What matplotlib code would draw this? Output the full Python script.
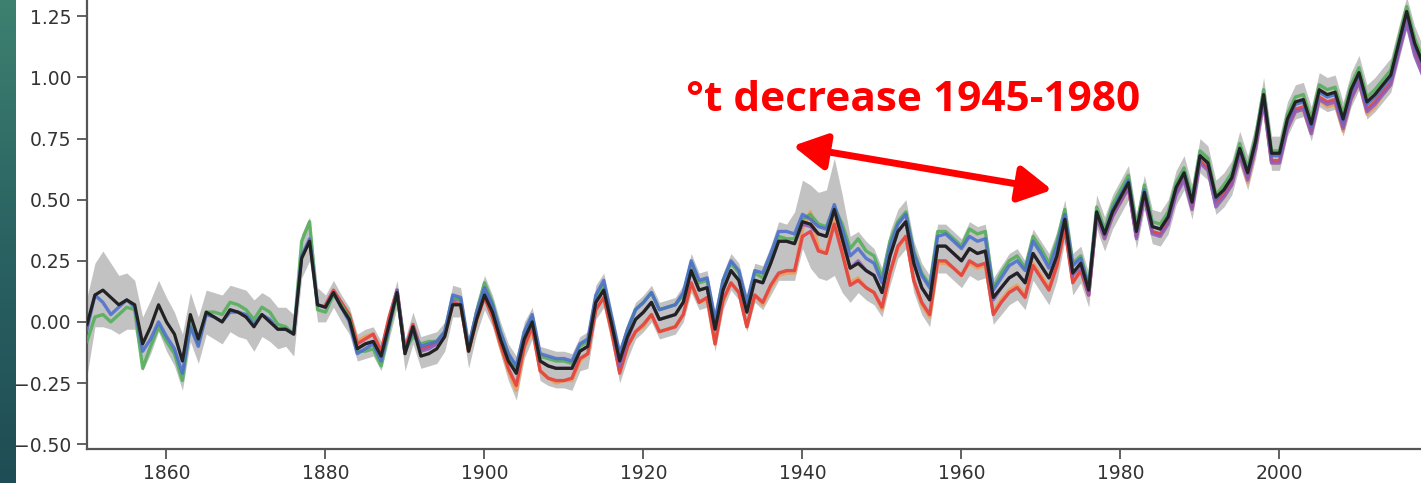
import numpy as np
import matplotlib
matplotlib.use("Agg")
import matplotlib.pyplot as plt

# annual temperature anomaly (one row per decade)
years = np.arange(1850, 2019)
years_late = np.arange(1880, 2019)

mean = [
    -0.01, 0.11, 0.13, 0.10, 0.07, 0.09, 0.07, -0.09, -0.02, 0.07,
    0.00, -0.05, -0.16, 0.03, -0.07, 0.04, 0.02, 0.00, 0.05, 0.04,
    0.02, -0.02, 0.03, 0.00, -0.03, -0.03, -0.05, 0.26, 0.33, 0.07,
    0.06, 0.12, 0.06, 0.01, -0.11, -0.09, -0.08, -0.14, -0.01, 0.12,
    -0.13, -0.02, -0.14, -0.13, -0.11, -0.06, 0.07, 0.07, -0.12, 0.01,
    0.11, 0.04, -0.07, -0.16, -0.21, -0.07, 0.00, -0.16, -0.18, -0.19,
    -0.19, -0.19, -0.12, -0.10, 0.08, 0.13, -0.01, -0.16, -0.06, 0.01,
    0.04, 0.08, 0.01, 0.02, 0.03, 0.08, 0.21, 0.13, 0.14, -0.03,
    0.13, 0.21, 0.17, 0.04, 0.17, 0.16, 0.24, 0.33, 0.33, 0.32,
    0.41, 0.40, 0.36, 0.35, 0.46, 0.34, 0.22, 0.24, 0.21, 0.19,
    0.12, 0.27, 0.37, 0.41, 0.24, 0.14, 0.09, 0.31, 0.31, 0.28,
    0.25, 0.30, 0.28, 0.29, 0.10, 0.14, 0.18, 0.20, 0.16, 0.28,
    0.23, 0.18, 0.27, 0.42, 0.20, 0.24, 0.13, 0.45, 0.36, 0.45,
    0.51, 0.57, 0.37, 0.53, 0.39, 0.38, 0.43, 0.55, 0.61, 0.49,
    0.68, 0.65, 0.51, 0.54, 0.59, 0.71, 0.61, 0.74, 0.93, 0.69,
    0.69, 0.83, 0.90, 0.91, 0.81, 0.95, 0.93, 0.94, 0.83, 0.95,
    1.02, 0.90, 0.93, 0.97, 1.01, 1.14, 1.27, 1.14, 1.06,
]

blue = [
    -0.03, 0.11, 0.08, 0.03, 0.06, 0.09, 0.06, -0.12, -0.07, 0.00,
    -0.06, -0.11, -0.21, -0.02, -0.10, 0.03, 0.02, 0.00, 0.04, 0.04,
    0.03, -0.01, 0.03, 0.01, -0.03, -0.03, -0.05, 0.27, 0.34, 0.07,
    0.06, 0.12, 0.06, 0.00, -0.13, -0.11, -0.09, -0.16, -0.02, 0.13,
    -0.12, -0.04, -0.10, -0.09, -0.08, -0.04, 0.11, 0.10, -0.10, 0.04,
    0.14, 0.07, -0.04, -0.13, -0.18, -0.04, 0.03, -0.13, -0.14, -0.15,
    -0.15, -0.16, -0.09, -0.07, 0.11, 0.17, 0.02, -0.13, -0.03, 0.05,
    0.08, 0.12, 0.05, 0.06, 0.07, 0.12, 0.25, 0.17, 0.18, 0.01,
    0.17, 0.25, 0.21, 0.08, 0.21, 0.20, 0.28, 0.37, 0.37, 0.36,
    0.44, 0.42, 0.39, 0.38, 0.48, 0.38, 0.27, 0.30, 0.26, 0.24,
    0.16, 0.31, 0.40, 0.44, 0.28, 0.19, 0.14, 0.35, 0.36, 0.33,
    0.30, 0.35, 0.33, 0.34, 0.13, 0.18, 0.23, 0.25, 0.21, 0.33,
    0.28, 0.22, 0.31, 0.44, 0.23, 0.26, 0.14, 0.45, 0.36, 0.46,
    0.52, 0.58, 0.37, 0.54, 0.39, 0.38, 0.43, 0.55, 0.61, 0.49,
    0.68, 0.65, 0.50, 0.54, 0.59, 0.71, 0.61, 0.74, 0.93, 0.68,
    0.68, 0.82, 0.89, 0.90, 0.80, 0.94, 0.92, 0.93, 0.82, 0.94,
    1.01, 0.89, 0.92, 0.96, 1.00, 1.13, 1.26, 1.13, 1.05,
]

green = [
    -0.08, 0.02, 0.03, 0.00, 0.03, 0.06, 0.05, -0.19, -0.10, -0.02,
    -0.08, -0.13, -0.24, -0.01, -0.09, 0.04, 0.04, 0.03, 0.08, 0.07,
    0.05, 0.01, 0.06, 0.04, -0.01, -0.02, -0.05, 0.33, 0.41, 0.05,
    0.04, 0.11, 0.07, 0.02, -0.12, -0.12, -0.11, -0.18, -0.03, 0.11,
    -0.12, -0.06, -0.09, -0.08, -0.08, -0.04, 0.10, 0.09, -0.11, 0.04,
    0.16, 0.08, -0.04, -0.13, -0.19, -0.05, 0.02, -0.14, -0.15, -0.16,
    -0.16, -0.17, -0.10, -0.08, 0.10, 0.15, 0.01, -0.14, -0.03, 0.05,
    0.08, 0.12, 0.05, 0.06, 0.07, 0.11, 0.24, 0.16, 0.17, 0.00,
    0.17, 0.24, 0.20, 0.07, 0.20, 0.18, 0.26, 0.35, 0.34, 0.34,
    0.42, 0.44, 0.40, 0.39, 0.47, 0.40, 0.30, 0.34, 0.29, 0.27,
    0.18, 0.33, 0.41, 0.45, 0.29, 0.20, 0.15, 0.37, 0.37, 0.34,
    0.31, 0.38, 0.36, 0.37, 0.14, 0.20, 0.25, 0.27, 0.22, 0.35,
    0.30, 0.24, 0.33, 0.46, 0.24, 0.27, 0.15, 0.47, 0.38, 0.48,
    0.54, 0.60, 0.39, 0.56, 0.41, 0.40, 0.45, 0.57, 0.63, 0.51,
    0.70, 0.67, 0.52, 0.56, 0.61, 0.73, 0.63, 0.76, 0.95, 0.70,
    0.70, 0.85, 0.92, 0.93, 0.83, 0.97, 0.95, 0.96, 0.85, 0.97,
    1.04, 0.92, 0.95, 0.99, 1.03, 1.16, 1.29, 1.16, 1.08,
]

# these three start in 1880
red = [
    0.07, 0.13, 0.08, 0.03, -0.09, -0.07, -0.05, -0.12, 0.02, 0.13,
    -0.11, -0.01, -0.11, -0.10, -0.08, -0.05, 0.08, 0.07, -0.12, 0.01,
    0.10, 0.02, -0.09, -0.19, -0.26, -0.10, -0.02, -0.20, -0.23, -0.24,
    -0.24, -0.23, -0.15, -0.13, 0.05, 0.10, -0.04, -0.21, -0.10, -0.04,
    -0.01, 0.03, -0.04, -0.03, -0.02, 0.03, 0.16, 0.08, 0.10, -0.09,
    0.09, 0.16, 0.12, -0.02, 0.11, 0.08, 0.15, 0.20, 0.21, 0.21,
    0.35, 0.37, 0.29, 0.28, 0.40, 0.28, 0.15, 0.17, 0.14, 0.12,
    0.06, 0.20, 0.31, 0.35, 0.17, 0.08, 0.03, 0.25, 0.25, 0.22,
    0.19, 0.25, 0.23, 0.24, 0.03, 0.08, 0.12, 0.14, 0.10, 0.23,
    0.18, 0.13, 0.23, 0.38, 0.16, 0.21, 0.11, 0.44, 0.35, 0.44,
    0.49, 0.55, 0.35, 0.51, 0.37, 0.36, 0.41, 0.53, 0.59, 0.47,
    0.66, 0.63, 0.49, 0.52, 0.57, 0.69, 0.59, 0.72, 0.91, 0.66,
    0.66, 0.80, 0.87, 0.88, 0.78, 0.92, 0.90, 0.91, 0.80, 0.92,
    0.99, 0.87, 0.90, 0.94, 0.98, 1.11, 1.24, 1.11, 1.03,
]

orange = [
    0.06, 0.12, 0.07, 0.03, -0.08, -0.06, -0.05, -0.12, 0.01, 0.12,
    -0.12, -0.03, -0.12, -0.10, -0.09, -0.06, 0.07, 0.07, -0.12, 0.00,
    0.10, 0.02, -0.10, -0.20, -0.28, -0.11, -0.03, -0.20, -0.23, -0.25,
    -0.24, -0.24, -0.16, -0.13, 0.05, 0.10, -0.05, -0.20, -0.10, -0.04,
    -0.02, 0.03, -0.04, -0.03, -0.02, 0.03, 0.15, 0.08, 0.09, -0.09,
    0.08, 0.16, 0.12, -0.02, 0.11, 0.07, 0.14, 0.19, 0.20, 0.20,
    0.38, 0.45, 0.30, 0.28, 0.42, 0.29, 0.16, 0.18, 0.14, 0.12,
    0.05, 0.20, 0.30, 0.35, 0.17, 0.07, 0.02, 0.24, 0.24, 0.22,
    0.19, 0.24, 0.22, 0.23, 0.04, 0.09, 0.13, 0.15, 0.11, 0.24,
    0.19, 0.14, 0.23, 0.39, 0.17, 0.21, 0.11, 0.43, 0.34, 0.43,
    0.49, 0.55, 0.35, 0.51, 0.37, 0.35, 0.41, 0.53, 0.59, 0.46,
    0.66, 0.62, 0.48, 0.51, 0.56, 0.68, 0.57, 0.71, 0.90, 0.65,
    0.65, 0.79, 0.86, 0.87, 0.77, 0.91, 0.88, 0.89, 0.78, 0.91,
    0.98, 0.85, 0.88, 0.93, 0.97, 1.10, 1.23, 1.10, 1.02,
]

purple = [
    0.06, 0.12, 0.06, 0.01, -0.11, -0.09, -0.08, -0.14, -0.01, 0.12,
    -0.13, -0.02, -0.12, -0.11, -0.09, -0.05, 0.09, 0.09, -0.11, 0.02,
    0.12, 0.05, -0.06, -0.15, -0.21, -0.07, 0.00, -0.16, -0.18, -0.19,
    -0.19, -0.19, -0.12, -0.10, 0.08, 0.13, -0.01, -0.18, -0.07, 0.01,
    0.04, 0.08, 0.01, 0.02, 0.03, 0.08, 0.21, 0.13, 0.14, -0.03,
    0.13, 0.21, 0.17, 0.04, 0.17, 0.16, 0.24, 0.33, 0.33, 0.32,
    0.40, 0.39, 0.36, 0.35, 0.46, 0.34, 0.22, 0.25, 0.21, 0.19,
    0.12, 0.27, 0.37, 0.41, 0.24, 0.14, 0.09, 0.31, 0.31, 0.28,
    0.25, 0.30, 0.28, 0.29, 0.09, 0.14, 0.18, 0.20, 0.16, 0.28,
    0.23, 0.18, 0.27, 0.42, 0.19, 0.23, 0.11, 0.43, 0.34, 0.43,
    0.49, 0.55, 0.34, 0.51, 0.36, 0.35, 0.40, 0.52, 0.58, 0.46,
    0.65, 0.62, 0.47, 0.51, 0.56, 0.68, 0.58, 0.71, 0.90, 0.65,
    0.65, 0.79, 0.86, 0.87, 0.77, 0.91, 0.89, 0.90, 0.79, 0.91,
    0.98, 0.86, 0.89, 0.93, 0.97, 1.10, 1.22, 1.09, 1.01,
]

# grey uncertainty band
band_lo = [
    -0.22, -0.02, -0.02, -0.03, -0.05, -0.03, -0.03, -0.20, -0.13, -0.04,
    -0.12, -0.18, -0.28, -0.08, -0.17, -0.05, -0.07, -0.09, -0.04, -0.06,
    -0.07, -0.12, -0.06, -0.08, -0.11, -0.10, -0.14, 0.18, 0.25, 0.00,
    0.00, 0.06, 0.00, -0.05, -0.16, -0.15, -0.14, -0.20, -0.07, 0.06,
    -0.20, -0.09, -0.19, -0.18, -0.17, -0.12, 0.02, 0.02, -0.19, -0.05,
    0.05, -0.02, -0.13, -0.24, -0.32, -0.15, -0.07, -0.24, -0.26, -0.27,
    -0.27, -0.28, -0.20, -0.19, 0.01, 0.06, -0.08, -0.25, -0.15, -0.07,
    -0.04, 0.00, -0.07, -0.06, -0.05, 0.00, 0.12, 0.05, 0.06, -0.12,
    0.05, 0.13, 0.09, -0.04, 0.08, 0.05, 0.11, 0.17, 0.17, 0.17,
    0.30, 0.22, 0.18, 0.17, 0.19, 0.12, 0.08, 0.12, 0.09, 0.07,
    0.02, 0.15, 0.26, 0.30, 0.12, 0.03, -0.02, 0.20, 0.20, 0.17,
    0.14, 0.19, 0.17, 0.18, -0.01, 0.03, 0.07, 0.09, 0.05, 0.17,
    0.12, 0.07, 0.17, 0.33, 0.11, 0.16, 0.06, 0.38, 0.29, 0.38,
    0.44, 0.50, 0.30, 0.46, 0.32, 0.31, 0.36, 0.48, 0.54, 0.42,
    0.61, 0.58, 0.44, 0.47, 0.52, 0.64, 0.54, 0.67, 0.86, 0.62,
    0.62, 0.76, 0.83, 0.84, 0.74, 0.88, 0.86, 0.87, 0.76, 0.88,
    0.95, 0.83, 0.86, 0.90, 0.94, 1.07, 1.20, 1.07, 0.99,
]

band_hi = [
    0.10, 0.24, 0.29, 0.24, 0.19, 0.20, 0.17, 0.02, 0.09, 0.17,
    0.10, 0.04, -0.05, 0.12, 0.02, 0.13, 0.12, 0.11, 0.15, 0.14,
    0.13, 0.09, 0.12, 0.10, 0.06, 0.06, 0.03, 0.36, 0.43, 0.14,
    0.11, 0.17, 0.11, 0.06, -0.05, -0.03, -0.02, -0.08, 0.05, 0.17,
    -0.07, 0.04, -0.06, -0.05, -0.04, 0.00, 0.15, 0.14, -0.06, 0.08,
    0.19, 0.11, 0.00, -0.09, -0.14, 0.00, 0.06, -0.10, -0.11, -0.12,
    -0.12, -0.13, -0.06, -0.04, 0.15, 0.20, 0.05, -0.10, 0.00, 0.08,
    0.11, 0.15, 0.08, 0.09, 0.10, 0.15, 0.28, 0.20, 0.21, 0.04,
    0.20, 0.28, 0.24, 0.11, 0.24, 0.23, 0.31, 0.41, 0.40, 0.45,
    0.58, 0.56, 0.53, 0.54, 0.67, 0.52, 0.35, 0.37, 0.33, 0.30,
    0.22, 0.37, 0.46, 0.50, 0.33, 0.24, 0.19, 0.40, 0.40, 0.37,
    0.34, 0.41, 0.39, 0.40, 0.18, 0.23, 0.28, 0.30, 0.25, 0.38,
    0.33, 0.28, 0.37, 0.50, 0.28, 0.31, 0.20, 0.52, 0.43, 0.52,
    0.58, 0.64, 0.44, 0.60, 0.46, 0.45, 0.50, 0.62, 0.68, 0.56,
    0.75, 0.72, 0.58, 0.61, 0.66, 0.78, 0.68, 0.81, 1.00, 0.76,
    0.76, 0.90, 0.97, 0.98, 0.88, 1.02, 1.00, 1.01, 0.90, 1.02,
    1.09, 0.97, 1.00, 1.04, 1.08, 1.21, 1.33, 1.21, 1.13,
]

xticks = [1860, 1880, 1900, 1920, 1940, 1960, 1980, 2000]
yticks = [-0.50, -0.25, 0.00, 0.25, 0.50, 0.75, 1.00, 1.25]
note = "°t decrease 1945-1980"

W, H = 1421, 483
fig = plt.figure(figsize=(W / 100, H / 100), dpi=100)
fig.patch.set_facecolor("white")

# teal strip of the slide on the left edge
strip = fig.add_axes([0, 0, 16 / W, 1])
grad = np.linspace(0, 1, 256)[:, None]
teal = matplotlib.colors.LinearSegmentedColormap.from_list(
    "teal", ["#3d8170", "#2a6262", "#1f4d55"])
strip.imshow(grad, aspect="auto", cmap=teal, extent=[0, 1, 0, 1])
strip.set_axis_off()

ax = fig.add_axes([87 / W, 34 / H, (W - 87) / W, 449 / H])
ax.fill_between(years, band_lo, band_hi, color="#b8b8b8", alpha=0.85,
                linewidth=0, zorder=1)

lw = 2.4
ax.plot(years_late, orange, color="#f09a50", lw=lw, alpha=0.85, zorder=2)
ax.plot(years_late, red, color="#e53b3b", lw=lw, alpha=0.85, zorder=3)
ax.plot(years_late, purple, color="#8a5cc0", lw=lw, alpha=0.85, zorder=3)
ax.plot(years, green, color="#4fae55", lw=lw, alpha=0.85, zorder=4)
ax.plot(years, blue, color="#4a6cd0", lw=lw, alpha=0.85, zorder=5)
ax.plot(years, mean, color="#222222", lw=2.3, zorder=6)

ax.set_xlim(1850, 2017.8)
ax.set_ylim(-0.52, 1.317)
ax.set_xticks(xticks)
ax.set_yticks(yticks)

for side in ("top", "right"):
    ax.spines[side].set_visible(False)
for side in ("left", "bottom"):
    ax.spines[side].set_color("#555555")
    ax.spines[side].set_linewidth(1.6)
ax.tick_params(labelsize=13.5, length=7, width=1.3, color="#555555",
               labelcolor="#333333", pad=4)

# annotation
ax.text(1925.3, 0.862, note, color="#ff0000", fontsize=30.5,
        fontweight="bold", family=["Open Sans", "DejaVu Sans"],
        ha="left", va="baseline", zorder=10)
ax.annotate("", xy=(1938.8, 0.72), xytext=(1971.4, 0.54),
            arrowprops=dict(arrowstyle="<|-|>,head_length=1.0,head_width=0.55",
                            color="#ff0000", lw=5, mutation_scale=20,
                            shrinkA=0, shrinkB=0),
            zorder=10)

fig.savefig("out.png", dpi=100)
